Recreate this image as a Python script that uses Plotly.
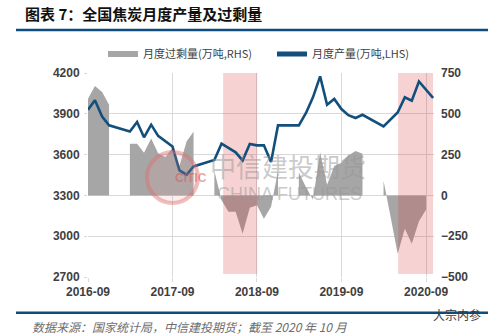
import plotly.graph_objects as go

# ---------------- data ----------------
months = [
    "2016-09", "2016-10", "2016-11", "2016-12",
    "2017-01", "2017-02", "2017-03", "2017-04", "2017-05", "2017-06",
    "2017-07", "2017-08", "2017-09", "2017-10", "2017-11", "2017-12",
    "2018-01", "2018-02", "2018-03", "2018-04", "2018-05", "2018-06",
    "2018-07", "2018-08", "2018-09", "2018-10", "2018-11", "2018-12",
    "2019-01", "2019-02", "2019-03", "2019-04", "2019-05", "2019-06",
    "2019-07", "2019-08", "2019-09", "2019-10", "2019-11", "2019-12",
    "2020-01", "2020-02", "2020-03", "2020-04", "2020-05", "2020-06",
    "2020-07", "2020-08", "2020-09", "2020-10",
]

# monthly coke output, 10k t (LHS)
production = [
    3930, 4000, 3880, 3815,
    None, None, 3770, 3840, 3727, 3820,
    3738, 3702, 3660, 3484, 3452, 3513,
    None, None, 3560, 3680, 3650, 3617,
    3557, 3678, 3668, 3668, 3546, 3815,
    None, None, 3815, 3906, 4021, 4175,
    3967, 4009, 3935, 3890, 3869, 3893,
    None, None, 3807, 3860, 3910, 4021,
    3996, 4138, 4077, 4016,
]

# monthly coke surplus, 10k t (RHS)
surplus = [
    592, 670, 633, 556,
    None, None, 317, 317, 262, 349,
    258, 235, 290, 180, 330, 390,
    None, None, 150, -30, -100, -100,
    -235, -75, -60, -143, -70, 150,
    None, None, 140, 50, -25, 265,
    65, 180, 200, 245, 272, 255,
    None, None, 90, -135, -357, -204,
    -296, -158, -87, None,
]

# highlighted periods (pink bands)
band_starts = ["2018-04-08", "2020-05-03"]
band_ends = ["2018-09-02", "2020-10-01"]
band_low, band_high = -482, 750

left_ticks = [2700, 3000, 3300, 3600, 3900, 4200]
right_ticks = [-500, -250, 0, 250, 500, 750]
x_ticks = ["2016-09", "2017-09", "2018-09", "2019-09", "2020-09"]

dates = [m + "-01" for m in months]

# ---------------- layout geometry ----------------
W, H = 495, 336
ML, MR, MT, MB = 88, 61, 73, 59
PW, PH = W - ML - MR, H - MT - MB


def px(x):  # pixel x -> paper
    return (x - ML) / PW


def py(y):  # pixel y -> paper
    return (H - MB - y) / PH


BLUE = "#134F7C"
GRAY = "#A6A6A6"
TXT = "#404040"
GRID = "#D9D9D9"
FONT = "Noto Sans CJK SC"

fig = go.Figure()

# surplus area (RHS): each run of reported months is filled to zero separately
segments, cur = [], []
for d, v in zip(dates, surplus):
    if v is None:
        if cur:
            segments.append(cur)
        cur = []
    else:
        cur.append((d, v))
if cur:
    segments.append(cur)

for i, seg in enumerate(segments):
    fig.add_trace(go.Scatter(
        x=[p[0] for p in seg], y=[p[1] for p in seg],
        name="月度过剩量(万吨,RHS)", legendgroup="surplus",
        showlegend=(i == 0),
        mode="none", fill="tozeroy", fillcolor=GRAY,
        yaxis="y", hoverinfo="skip",
    ))

# pink bands drawn above the area, below the line
bx, by = [], []
for s, e in zip(band_starts, band_ends):
    bx += [s, e, e, s, s, None]
    by += [band_low, band_low, band_high, band_high, band_low, None]
fig.add_trace(go.Scatter(
    x=bx, y=by, mode="none", fill="toself",
    fillcolor="rgba(214,48,48,0.22)", showlegend=False,
    yaxis="y", hoverinfo="skip",
))

# production line (LHS) on overlaying y2 axis (placed on left side)
fig.add_trace(go.Scatter(
    x=dates, y=production, name="月度产量(万吨,LHS)",
    mode="lines", line=dict(color=BLUE, width=2.6),
    connectgaps=True, yaxis="y2", hoverinfo="skip",
))

tickfont = dict(family="Liberation Sans", size=12, color=TXT, weight="bold")

fig.update_layout(
    width=W, height=H,
    margin=dict(l=ML, r=MR, t=MT, b=MB, pad=0, autoexpand=False),
    paper_bgcolor="white", plot_bgcolor="white",
    showlegend=True,
    legend=dict(
        orientation="h", xref="container", yref="container",
        x=103 / W, y=1 - 54 / H, xanchor="left", yanchor="middle",
        font=dict(family=FONT, size=11, color=TXT),
        bgcolor="rgba(0,0,0,0)", entrywidth=124, entrywidthmode="pixels",
        itemsizing="constant", tracegroupgap=0,
    ),
    title=dict(
        text="<b>图表 7：全国焦炭月度产量及过剩量</b>",
        x=25 / W, xanchor="left", xref="container",
        y=1 - 15 / H, yanchor="middle", yref="container",
        font=dict(family=FONT, size=15, color="#111111"),
    ),
    xaxis=dict(
        type="date", range=["2016-09-01", "2020-10-05"],
        tickvals=[t + "-01" for t in x_ticks], ticktext=x_ticks,
        showgrid=True, gridcolor=GRID, gridwidth=1,
        ticks="outside", ticklen=4, tickcolor=GRID,
        showline=False, zeroline=False, tickfont=tickfont,
    ),
    yaxis=dict(
        side="right", range=[-500, 750], tickvals=right_ticks,
        showgrid=True, gridcolor=GRID, gridwidth=1, zeroline=False,
        showline=False, ticks="", tickfont=tickfont, ticklabelstandoff=6,
    ),
    yaxis2=dict(
        side="left", overlaying="y", range=[2700, 4200], tickvals=left_ticks,
        showgrid=False, zeroline=False, showline=False,
        ticks="outside", ticklen=3, tickcolor=GRID, tickfont=tickfont,
        ticklabelstandoff=2,
    ),
)

# horizontal rules (title and footer)
for yy in (30, 312.7):
    fig.add_shape(type="line", xref="paper", yref="paper",
                  x0=px(16), x1=px(488), y0=py(yy), y1=py(yy),
                  line=dict(color="#0F4C7E", width=2.5), layer="above")

# watermark: logo ring and text
fig.add_shape(type="circle", xref="paper", yref="paper",
              x0=px(172.5 - 25.5), x1=px(172.5 + 25.5),
              y0=py(177.5 + 25.5), y1=py(177.5 - 25.5),
              line=dict(color="rgba(222,110,110,0.45)", width=4),
              fillcolor="rgba(235,160,160,0.18)", layer="above")
fig.add_annotation(text="<b>CITIC</b>", xref="paper", yref="paper",
                   x=px(172.5), y=py(178), showarrow=False,
                   font=dict(family="Liberation Sans", size=12,
                             color="rgba(215,90,90,0.55)"))
fig.add_annotation(text="中信建投期货", xref="paper", yref="paper",
                   x=px(288), y=py(165), showarrow=False,
                   font=dict(family="Noto Sans CJK SC", size=26,
                             color="rgba(150,150,150,0.5)"))
fig.add_annotation(text="CHINA FUTURES", xref="paper", yref="paper",
                   x=px(289), y=py(194), showarrow=False,
                   font=dict(family="Liberation Sans", size=18,
                             color="rgba(150,150,150,0.5)"))

# footer source note
fig.add_annotation(
    text="数据来源：国家统计局，中信建投期货；截至 2020 年 10 月",
    xref="paper", yref="paper", x=px(30), y=py(326),
    xanchor="left", yanchor="middle", showarrow=False,
    font=dict(family=FONT, size=12, color="#6E6E6E", style="italic"),
)
fig.add_annotation(
    text="大宗内参", xref="paper", yref="paper", x=px(457), y=py(314),
    xanchor="center", yanchor="middle", showarrow=False,
    font=dict(family=FONT, size=12, color="#3A3A3A"),
)

fig.write_html("out.html")
